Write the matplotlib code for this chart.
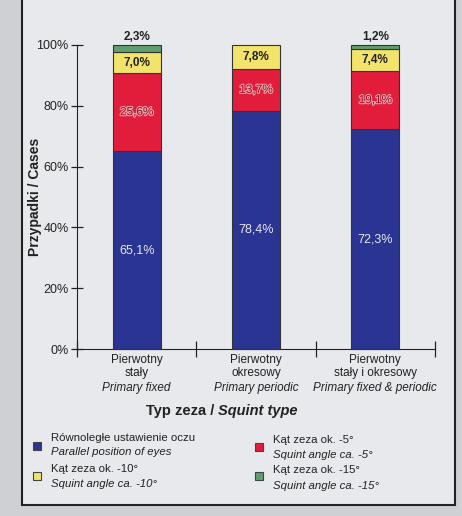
import matplotlib
matplotlib.use("Agg")
import matplotlib.pyplot as plt
from matplotlib.patches import Rectangle
import matplotlib.patheffects as pe

plt.rcParams['font.family'] = ['Liberation Sans', 'DejaVu Sans']

cats_pl = ["Pierwotny\nstały", "Pierwotny\nokresowy", "Pierwotny\nstały i okresowy"]
cats_en = ["Primary fixed", "Primary periodic", "Primary fixed & periodic"]
parallel = [65.1, 78.4, 72.3]
sq5 = [25.6, 13.7, 19.1]
sq10 = [7.0, 7.8, 7.4]
sq15 = [2.3, 0.0, 1.2]
yticks = [0, 20, 40, 60, 80, 100]

series = [parallel, sq5, sq10, sq15]
colors = ["#2a3492", "#e21d3c", "#f2e36a", "#5f9e70"]
leg_pl = ["Równoległe ustawienie oczu", "Kąt zeza ok. -5°", "Kąt zeza ok. -10°", "Kąt zeza ok. -15°"]
leg_en = ["Parallel position of eyes", "Squint angle ca. -5°", "Squint angle ca. -10°", "Squint angle ca. -15°"]

W, H = 462, 516
fig = plt.figure(figsize=(W/100, H/100), dpi=100)
fig.patch.set_facecolor("#cfd0d3")
frame = Rectangle((22/W, 1-505/H), (455-22)/W, 505/H + 0.01,
                  transform=fig.transFigure, facecolor="#e8e9ed",
                  edgecolor="#222222", lw=1.5, zorder=-10)
fig.patches.append(frame)

ax = fig.add_axes([77/W, 1-349/H, (435-77)/W, (349-45)/H], zorder=2)
ax.set_facecolor("none")
ax.set_xlim(0, 3)
ax.set_ylim(0, 100)

xs = [0.5, 1.5, 2.5]
bottoms = [0, 0, 0]
for i, (vals, col) in enumerate(zip(series, colors)):
    for j, v in enumerate(vals):
        if v <= 0:
            continue
        ax.bar(xs[j], v, 0.4, bottom=bottoms[j], color=col, edgecolor="#333333",
               lw=0.8, clip_on=False, zorder=3)
        cy = bottoms[j] + v/2
        lab = f"{v:.1f}%".replace(".", ",")
        if i == 0:
            ax.text(xs[j], cy, lab, ha="center", va="center", fontsize=9,
                    color="#e8e8f0", zorder=4)
        elif i == 1:
            ax.text(xs[j], cy, lab, ha="center", va="center", fontsize=8.5,
                    color="#8a1020", zorder=4,
                    path_effects=[pe.withStroke(linewidth=1.5, foreground="#f0a0a8")])
        elif i == 2:
            ax.text(xs[j], cy, lab, ha="center", va="center", fontsize=8.5,
                    color="#222222", fontweight="bold", zorder=4)
        else:
            ax.text(xs[j], bottoms[j] + v + 0.8, lab, ha="center", va="bottom",
                    fontsize=8.5, color="#222222", fontweight="bold", zorder=4)
        bottoms[j] += v

for s in ["top", "right"]:
    ax.spines[s].set_visible(False)
ax.spines["left"].set_color("#222222")
ax.spines["bottom"].set_color("#222222")
ax.set_yticks(yticks)
ax.set_yticklabels([f"{t}%" for t in yticks], fontsize=9, color="#222222")
ax.set_xticks([0, 1, 2, 3])
ax.set_xticklabels([])
ax.tick_params(axis="both", direction="inout", length=9, width=0.9, colors="#222222")
ax.tick_params(axis="x", length=11)
ax.tick_params(axis="y", pad=1.5)
ax.set_ylabel("Przypadki / Cases", fontsize=10, fontweight="bold", color="#222222")
ax.yaxis.set_label_coords((42-77)/358, 0.5)

for x, pl, en in zip(xs, cats_pl, cats_en):
    ax.text(x, -0.018, pl, transform=ax.get_xaxis_transform(), ha="center", va="top",
            fontsize=8.5, color="#222222", linespacing=1.05)
    ax.text(x, -0.107, en, transform=ax.get_xaxis_transform(), ha="center", va="top",
            fontsize=8.5, color="#222222", style="italic")

fig.text(218/W, 1-411/H, "Typ zeza / ", ha="right", va="center", fontsize=10.5,
         fontweight="bold", color="#222222")
fig.text(218/W, 1-411/H, "Squint type", ha="left", va="center", fontsize=10.5,
         fontweight="bold", style="italic", color="#222222")

# (marker x, marker y, text x, text line1 y, text line2 y)
legpos = [(37, 446, 51, 438, 452), (259, 447, 273, 440, 455),
          (37, 476, 51, 469, 484), (259, 476, 273, 470, 486)]
for (x, y, tx, y1, y2), col, pl, en in zip(legpos, colors, leg_pl, leg_en):
    fig.patches.append(Rectangle(((x-4)/W, 1-(y+4)/H), 8/W, 8/H, transform=fig.transFigure,
                                 facecolor=col, edgecolor="#444444", lw=0.8, zorder=3))
    fig.text(tx/W, 1-y1/H, pl, ha="left", va="center", fontsize=8.2, color="#222222")
    fig.text(tx/W, 1-y2/H, en, ha="left", va="center", fontsize=8.2,
             style="italic", color="#222222")

fig.savefig("out.png", dpi=100, facecolor=fig.get_facecolor())
